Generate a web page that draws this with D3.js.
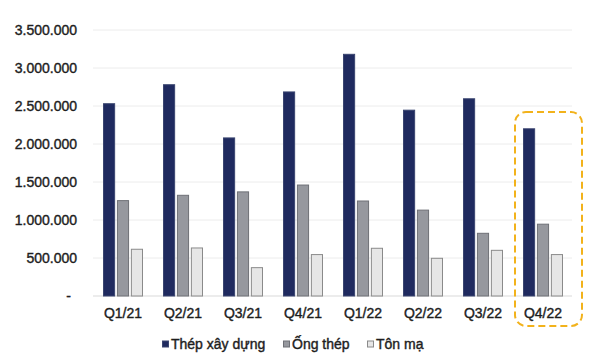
<!DOCTYPE html>
<html>
<head>
<meta charset="utf-8">
<script src="https://cdn.jsdelivr.net/npm/d3@7"></script>
<style>
  html, body { margin: 0; padding: 0; background: #ffffff; }
  svg { display: block; font-family: "Liberation Sans", Arial, sans-serif; }
</style>
</head>
<body>
<svg id="chart" width="600" height="357"></svg>
<script>
const categories = ["Q1/21", "Q2/21", "Q3/21", "Q4/21", "Q1/22", "Q2/22", "Q3/22", "Q4/22"];
const seriesNames = ["Thép xây dựng", "Ống thép", "Tôn mạ"];
const thepXayDung = [2530000, 2780000, 2080000, 2685000, 3180000, 2445000, 2595000, 2200000];
const ongThep = [1255000, 1325000, 1370000, 1460000, 1250000, 1130000, 825000, 945000];
const tonMa = [615000, 632000, 373000, 545000, 628000, 496000, 601000, 545000];
const yTicks = [0, 500000, 1000000, 1500000, 2000000, 2500000, 3000000, 3500000];
const highlight = "Q4/22";

const seriesValues = [thepXayDung, ongThep, tonMa];
const fills = ["#1f2a5f", "#96989e", "#e6e6e6"];
const strokes = ["#3a4570", "#6e7076", "#8a8a8a"];
const textColor = "#1e1e1e";

const svg = d3.select("#chart");
const plot = { left: 93, right: 573, top: 30, bottom: 296 };

const x0 = d3.scaleBand().domain(categories).range([plot.left, plot.right]).padding(0);
const x1 = d3.scaleBand().domain(seriesNames).range([10.5, 49.5]).paddingInner(0.2);
const y = d3.scaleLinear().domain([0, 3500000]).range([plot.bottom, plot.top]);

const fmt = v => v === 0 ? "-" : d3.format(",")(v).replace(/,/g, ".");

function styleText(sel) {
  sel.attr("font-size", 14).attr("font-weight", "normal").attr("fill", textColor)
    .attr("stroke", textColor).attr("stroke-width", 0.4)
    .attr("font-family", "Liberation Sans, Arial, sans-serif");
}

// gridlines
svg.append("g").selectAll("line").data(yTicks).join("line")
  .attr("x1", plot.left).attr("x2", plot.right - 1)
  .attr("y1", d => y(d)).attr("y2", d => y(d))
  .attr("stroke", d => d === 0 ? "#d9d9d9" : "#ececec").attr("stroke-width", 1);

// y axis labels
const yAxis = d3.axisLeft(y).tickValues(yTicks).tickFormat(fmt).tickSize(0).tickPadding(0);
const gy = svg.append("g").attr("transform", "translate(77,0)").call(yAxis);
gy.select(".domain").remove();
gy.selectAll("text").call(styleText).attr("x", d => d === 0 ? -6 : 0);

// bars
const groups = svg.append("g").selectAll("g").data(categories).join("g")
  .attr("transform", d => `translate(${x0(d)},0)`);
groups.selectAll("rect").data((c, i) => seriesNames.map((s, k) => ({ s, k, v: seriesValues[k][i] })))
  .join("rect")
  .attr("x", d => x1(d.s)).attr("width", x1.bandwidth())
  .attr("y", d => y(d.v)).attr("height", d => y(0) - y(d.v))
  .attr("fill", d => fills[d.k]).attr("stroke", d => strokes[d.k]).attr("stroke-width", 1);

// x axis labels
const xAxis = d3.axisBottom(x0).tickSize(0).tickPadding(0);
const gx = svg.append("g").attr("transform", `translate(0,${plot.bottom + 12})`).call(xAxis);
gx.select(".domain").remove();
gx.selectAll("text").call(styleText);

// highlight box
const hx = x0(highlight);
svg.append("rect")
  .attr("x", hx + 2).attr("y", 112)
  .attr("width", x0.bandwidth() + 7).attr("height", 214)
  .attr("rx", 11).attr("ry", 11)
  .attr("fill", "none").attr("stroke", "#f2b21b").attr("stroke-width", 2)
  .attr("stroke-dasharray", "7,4");

// legend
const legendPos = [162, 283, 367];
const lg = svg.append("g").selectAll("g").data(seriesNames).join("g")
  .attr("transform", (d, i) => `translate(${legendPos[i]},344)`);
lg.append("rect").attr("x", 0.5).attr("y", -3).attr("width", 6).attr("height", 6)
  .attr("fill", (d, i) => fills[i]).attr("stroke", (d, i) => strokes[i]).attr("stroke-width", 1);
lg.append("text").attr("x", 9).attr("y", 0).attr("dy", "0.35em")
  .call(styleText)
  .text(d => d);
</script>
</body>
</html>
